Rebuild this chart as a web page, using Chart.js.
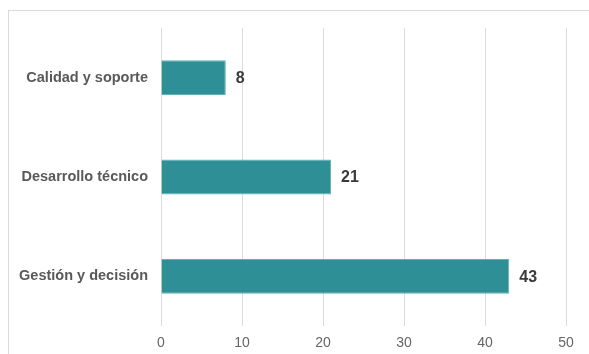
<!DOCTYPE html>
<html>
<head>
<meta charset="utf-8">
<script src="https://cdn.jsdelivr.net/npm/chart.js@4"></script>
<style>
  html, body { margin: 0; padding: 0; background: #fff; }
  #wrap { position: relative; width: 589px; height: 354px; overflow: hidden; }
  #frame { position: absolute; left: 8px; top: 10px; width: 600px; height: 360px;
           border-top: 1px solid #d9d9d9; border-left: 1px solid #d9d9d9; }
  canvas { position: absolute; left: 0; top: 0; }
</style>
</head>
<body>
<div id="wrap">
  <div id="frame"></div>
  <canvas id="barchart" width="589" height="354"></canvas>
</div>
<script>
const categories = ["Calidad y soporte", "Desarrollo técnico", "Gestión y decisión"];
const values = [8, 21, 43];
const xTicks = [0, 10, 20, 30, 40, 50];

// value labels at the end of each bar
const barLabels = {
  id: "barLabels",
  afterDatasetsDraw(chart) {
    const ctx = chart.ctx;
    const meta = chart.getDatasetMeta(0);
    ctx.save();
    ctx.font = "bold 16px 'Liberation Sans', Arial, sans-serif";
    ctx.fillStyle = "#3a3a3a";
    ctx.textAlign = "left";
    ctx.textBaseline = "middle";
    meta.data.forEach((bar, i) => {
      ctx.fillText(values[i], bar.x + 10, bar.y + 1);
    });
    ctx.restore();
  },
};

new Chart(document.getElementById("barchart"), {
  type: "bar",
  data: {
    labels: categories,
    datasets: [
      {
        data: values,
        backgroundColor: "#2e8f96",
        borderColor: "#5fb3b8",
        borderWidth: 1,
        categoryPercentage: 1,
        barPercentage: 0.35,
      },
    ],
  },
  options: {
    indexAxis: "y",
    responsive: false,
    animation: false,
    layout: { padding: { top: 28, right: 23, left: 0, bottom: 0 } },
    plugins: {
      legend: { display: false },
      tooltip: { enabled: false },
    },
    scales: {
      x: {
        min: 0,
        max: 50,
        afterBuildTicks: (scale) => {
          scale.ticks = xTicks.map((v) => ({ value: v }));
        },
        afterFit: (scale) => { scale.height = 28; },
        grid: { color: "#dcdcdc", drawTicks: false },
        border: { display: false },
        ticks: {
          padding: 9,
          color: "#666",
          font: { family: "'Liberation Sans', Arial, sans-serif", size: 14 },
        },
      },
      y: {
        afterFit: (scale) => { scale.width = 161; },
        grid: { display: false, drawTicks: false },
        border: { display: false },
        ticks: {
          padding: 13,
          color: "#595959",
          font: { family: "'Liberation Sans', Arial, sans-serif", size: 14.5, weight: "bold" },
        },
      },
    },
  },
  plugins: [barLabels],
});
</script>
</body>
</html>
